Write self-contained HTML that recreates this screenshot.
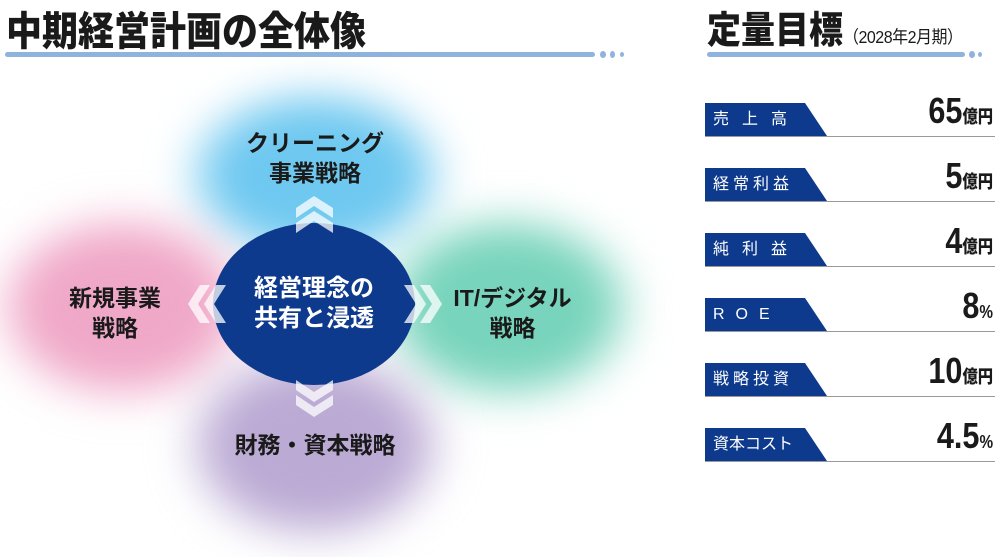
<!DOCTYPE html>
<html><head><meta charset="utf-8"><style>
body{margin:0;width:1000px;height:557px;background:#fff;position:relative;overflow:hidden;font-family:"Liberation Sans","Noto Sans CJK JP",sans-serif;}
.a{position:absolute}
.t{font-weight:900;color:#1a1a1a;}
.blob{position:absolute;border-radius:50%;filter:blur(20px);}
.lbl{position:absolute;font-weight:700;font-size:23px;color:#1a1a1a;text-align:center;line-height:30px;}
.row{position:absolute;left:705px;width:290px;height:33px;border-bottom:1.5px solid #999;}
.tag{position:absolute;left:0;top:0;height:33px;width:122px;background:#0d3a8c;clip-path:polygon(0 0,100px 0,122px 100%,0 100%);color:#fff;font-size:16px;line-height:33px;padding-left:8px;box-sizing:border-box;}
.val{position:absolute;right:2px;bottom:2px;font-weight:900;color:#1a1a1a;font-size:36px;line-height:34px;transform:scaleX(0.85);transform-origin:right bottom;}
.val small{font-size:18px;}
</style></head><body>
<div class="a t" style="left:6px;top:0px;font-size:36px;transform:scaleY(1.1);transform-origin:left top;">中期経営計画の全体像</div>
<div class="a" style="left:5px;top:52px;width:590px;height:5px;background:#8fb3dd;border-radius:3px"></div>
<div class="a" style="left:600px;top:51px;width:6px;height:7px;background:#8fb3dd;border-radius:50%"></div>
<div class="a" style="left:610px;top:51px;width:5px;height:7px;background:#8fb3dd;border-radius:50%"></div>
<div class="a" style="left:620px;top:52px;width:4px;height:5px;background:#8fb3dd;border-radius:50%"></div>
<div class="a t" style="left:707px;top:0px;font-size:34px;transform:scaleY(1.1);transform-origin:left top;white-space:nowrap">定量目標<span style="font-size:16px;font-weight:400;letter-spacing:-0.5px">（2028年2月期）</span></div>
<div class="a" style="left:707px;top:52px;width:258px;height:5px;background:#8fb3dd;border-radius:3px"></div>
<div class="a" style="left:969px;top:51px;width:6px;height:7px;background:#8fb3dd;border-radius:50%"></div>
<div class="a" style="left:978px;top:52px;width:4px;height:5px;background:#8fb3dd;border-radius:50%"></div>

<div class="blob" style="left:180px;top:85px;width:270px;height:180px;background:radial-gradient(ellipse,#6ec8f0 50%,rgba(110,200,240,0) 72%);"></div>
<div class="blob" style="left:-10px;top:210px;width:265px;height:195px;background:radial-gradient(ellipse,#f0a8c8 50%,rgba(240,168,200,0) 72%);"></div>
<div class="blob" style="left:375px;top:210px;width:265px;height:195px;background:radial-gradient(ellipse,#78d4bc 50%,rgba(120,212,188,0) 72%);"></div>
<div class="blob" style="left:180px;top:345px;width:270px;height:200px;background:radial-gradient(ellipse,#bbaad4 50%,rgba(187,170,212,0) 72%);"></div>

<div class="lbl" style="left:215px;top:128px;width:200px;">クリーニング<br>事業戦略</div>
<div class="lbl" style="left:40px;top:283px;width:150px;">新規事業<br>戦略</div>
<div class="lbl" style="left:425px;top:283px;width:175px;">IT/デジタル<br>戦略</div>
<div class="lbl" style="left:200px;top:430px;width:230px;">財務・資本戦略</div>

<div class="a" style="left:213px;top:223px;width:202px;height:162px;border-radius:50%;background:#0d3a8c;"></div>
<div class="lbl" style="left:213px;top:274px;width:202px;color:#fff;font-size:24px;line-height:30px;">経営理念の<br>共有と浸透</div>

<svg class="a" style="left:0;top:0" width="640" height="557">
<g fill="#fff" opacity="0.75">
<polygon points="296,208 314,196 333,208 333,218 314,206 296,218"/>
<polygon points="296,223 314,211 333,223 333,233 314,221 296,233"/>
<polygon points="296,380 314,392 333,380 333,390 314,402 296,390"/>
<polygon points="296,395 314,407 333,395 333,405 314,417 296,405"/>
<polygon points="200,285 188,304 200,323 210,323 198,304 210,285"/>
<polygon points="216,285 204,304 216,323 226,323 214,304 226,285"/>
<polygon points="404,285 416,304 404,323 414,323 426,304 414,285"/>
<polygon points="420,285 432,304 420,323 430,323 442,304 430,285"/>
</g></svg>

<div class="row" style="top:103px"><div class="tag" style="letter-spacing:13px">売上高</div><div class="val">65<small>億円</small></div></div>
<div class="row" style="top:168px"><div class="tag" style="letter-spacing:4px">経常利益</div><div class="val">5<small>億円</small></div></div>
<div class="row" style="top:233px"><div class="tag" style="letter-spacing:13px">純利益</div><div class="val">4<small>億円</small></div></div>
<div class="row" style="top:298px"><div class="tag" style="letter-spacing:11px">ROE</div><div class="val">8<small>%</small></div></div>
<div class="row" style="top:363px"><div class="tag" style="letter-spacing:4px">戦略投資</div><div class="val">10<small>億円</small></div></div>
<div class="row" style="top:428px"><div class="tag" style="letter-spacing:0px">資本コスト</div><div class="val">4.5<small>%</small></div></div>
</body></html>
